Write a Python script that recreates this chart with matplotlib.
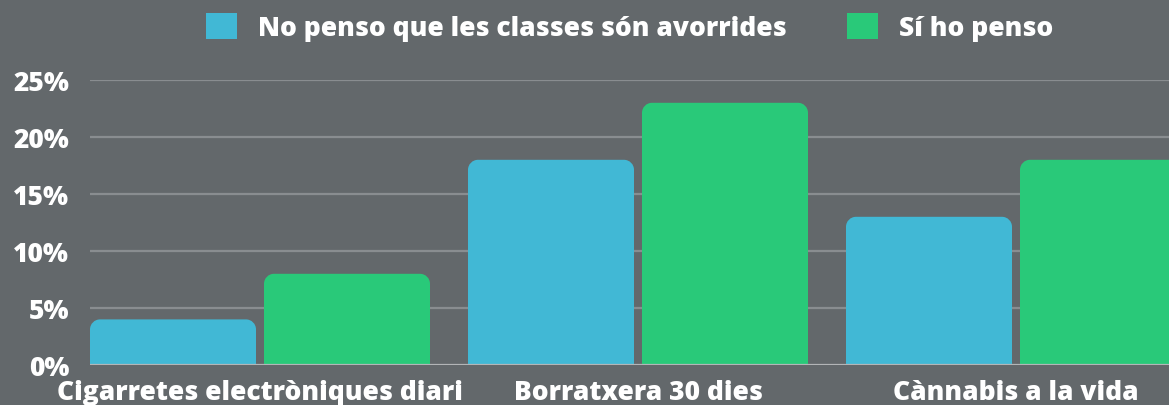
import numpy as np
import matplotlib
matplotlib.use("Agg")
import matplotlib.pyplot as plt
from matplotlib.patches import Patch, PathPatch
from matplotlib.path import Path

plt.rcParams['font.family'] = ['Open Sans', 'DejaVu Sans']
plt.rcParams['font.weight'] = 800

# Data
categories = ["Cigarretes electròniques diari", "Borratxera 30 dies", "Cànnabis a la vida"]
series_names = ["No penso que les classes són avorrides", "Sí ho penso"]
no_penso = [4, 18, 13]
si_penso = [8, 23, 18]
yticks = [0, 5, 10, 15, 20, 25]

BG = "#63686b"
BLUE = "#41b8d5"
GREEN = "#29c979"
GRID = "#898d90"
WHITE = "#ffffff"
FS = 19

W, H = 1169, 406
fig = plt.figure(figsize=(W / 100, H / 100), dpi=100, facecolor=BG)
ax = fig.add_axes([90 / W, 40 / H, 1 - 90 / W, 285 / H])
ax.set_facecolor(BG)

x = np.arange(len(categories))
bw = 166 / 378
off = 87 / 378
xlim = (-170 / 378, 2 + 153 / 378)
ylim = (0, 25)
ax.set_xlim(*xlim)
ax.set_ylim(*ylim)


def rounded_top(rect, r_px=10):
    # replace a plain bar with one that has rounded top corners
    bb = fig.get_size_inches() * fig.dpi
    ax_w = ax.get_position().width * bb[0]
    ax_h = ax.get_position().height * bb[1]
    rx = r_px * (xlim[1] - xlim[0]) / ax_w
    ry = r_px * (ylim[1] - ylim[0]) / ax_h
    x0, y0 = rect.get_x(), rect.get_y()
    x1, y1 = x0 + rect.get_width(), y0 + rect.get_height()
    k = 0.5523
    verts = [
        (x0, y0), (x0, y1 - ry),
        (x0, y1 - ry + k * ry), (x0 + rx - k * rx, y1), (x0 + rx, y1),
        (x1 - rx, y1),
        (x1 - rx + k * rx, y1), (x1, y1 - ry + k * ry), (x1, y1 - ry),
        (x1, y0), (x0, y0),
    ]
    codes = [Path.MOVETO, Path.LINETO,
             Path.CURVE4, Path.CURVE4, Path.CURVE4,
             Path.LINETO,
             Path.CURVE4, Path.CURVE4, Path.CURVE4,
             Path.LINETO, Path.CLOSEPOLY]
    patch = PathPatch(Path(verts, codes), facecolor=rect.get_facecolor(),
                      edgecolor='none', zorder=3)
    rect.remove()
    ax.add_patch(patch)


for vals, dx, col in [(no_penso, -off, BLUE), (si_penso, off, GREEN)]:
    bars = ax.bar(x + dx, vals, width=bw, color=col, zorder=3)
    for b in list(bars):
        rounded_top(b)

# grid
for t in yticks[1:]:
    ax.axhline(t, color=GRID, lw=1.6, zorder=1)
ax.axhline(0, color="#b3b5b7", lw=1.6, zorder=4)

for s in ax.spines.values():
    s.set_visible(False)

ax.set_yticks(yticks)
ax.set_yticklabels([f"{t}%" for t in yticks])
ax.set_xticks(x)
ax.set_xticklabels(categories)
ax.tick_params(axis='both', length=0, colors=WHITE, labelsize=FS)
ax.tick_params(axis='y', pad=15)
ax.tick_params(axis='x', pad=10)
for lab in ax.get_xticklabels() + ax.get_yticklabels():
    lab.set_fontweight(800)

handles = [Patch(facecolor=BLUE, edgecolor='none'), Patch(facecolor=GREEN, edgecolor='none')]
leg = fig.legend(handles, series_names, loc='center', bbox_to_anchor=(629.5 / W, 378 / H),
                 ncol=2, frameon=False, handlelength=1.17, handleheight=1.17,
                 handletextpad=0.8, columnspacing=2.3, labelcolor=WHITE,
                 prop={'weight': 800, 'size': FS})

fig.savefig("out.png", dpi=100, facecolor=BG)
